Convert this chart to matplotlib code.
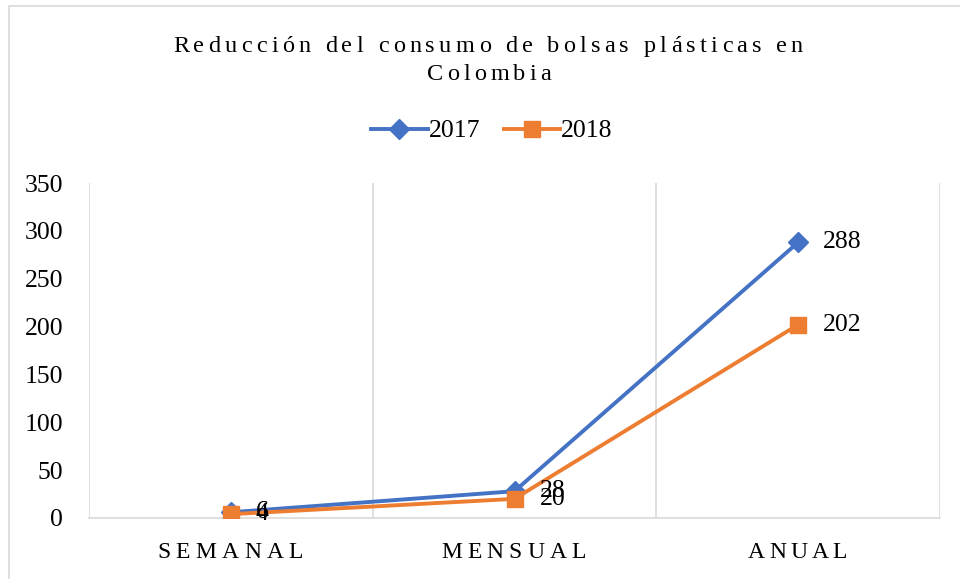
import matplotlib
matplotlib.use("Agg")
import matplotlib.pyplot as plt
from matplotlib.patches import Rectangle
from matplotlib.lines import Line2D

categories = ["SEMANAL", "MENSUAL", "ANUAL"]
series_2017 = [6, 28, 288]
series_2018 = [4, 20, 202]
yticks = [0, 50, 100, 150, 200, 250, 300, 350]
title_lines = ["Reducción del consumo de bolsas plásticas en", "Colombia"]

BLUE = "#4472C4"
ORANGE = "#ED7D31"
GRID = "#D9D9D9"
FONT = "Liberation Serif"

fig = plt.figure(figsize=(9.6, 5.79), dpi=100)
fig.patches.append(Rectangle((9/960, -0.1), 2, 1 - 6/579 + 0.1, transform=fig.transFigure,
                             fill=False, edgecolor=GRID, linewidth=1.2))
ax = fig.add_axes([89/960, 1 - 518/579, 851/960, 335/579])
x = [0, 1, 2]
ax.plot(x, series_2017, color=BLUE, lw=2.8, marker="D", ms=10, zorder=3, label="2017")
ax.plot(x, series_2018, color=ORANGE, lw=2.8, marker="s", ms=12, zorder=3, label="2018")
ax.set_xlim(-0.5, 2.5)
ax.set_ylim(0, 350)
ax.set_yticks(yticks)
ax.set_yticklabels([str(v) for v in yticks], fontfamily=FONT, fontsize=18.5)
ax.set_xticks(x)
ax.set_xticklabels([])
for v in [-0.5, 0.5, 1.5, 2.5]:
    ax.axvline(v, color=GRID, lw=1.2, zorder=0)
for s in ["top", "right", "left"]:
    ax.spines[s].set_visible(False)
ax.spines["bottom"].set_color(GRID)
ax.spines["bottom"].set_linewidth(1.2)
ax.tick_params(axis="both", length=0)
ax.tick_params(axis="y", pad=18.5)

for series in (series_2017, series_2018):
    for xi, v in zip(x, series):
        ax.annotate(str(v), (xi, v), xytext=(18, 0), textcoords="offset points",
                    ha="left", va="center", fontfamily=FONT, fontsize=18.5, color="black")

renderer = fig.canvas.get_renderer()

def char_width(ch, fontsize):
    if ch == " ":
        t1 = fig.text(0, 0, "a a", fontfamily=FONT, fontsize=fontsize)
        t2 = fig.text(0, 0, "aa", fontfamily=FONT, fontsize=fontsize)
        w = t1.get_window_extent(renderer).width - t2.get_window_extent(renderer).width
        t1.remove(); t2.remove()
        return w
    t = fig.text(0, 0, ch, fontfamily=FONT, fontsize=fontsize)
    w = t.get_window_extent(renderer).width
    t.remove()
    return w

def spaced_text(xc, baseline, s, target_width, fontsize):
    widths = [char_width(ch, fontsize) for ch in s]
    spacing = (target_width - sum(widths)) / (len(s) - 1)
    cx = xc - target_width / 2
    for ch, w in zip(s, widths):
        if ch != " ":
            fig.text(cx / 960, 1 - baseline / 579, ch, fontfamily=FONT, fontsize=fontsize,
                     ha="left", va="baseline")
        cx += w + spacing

spaced_text(488, 52, title_lines[0], 630, 17.5)
spaced_text(489, 80, title_lines[1], 125, 17.5)

for cx, lab, w in zip([230, 513.5, 797.5], categories, [146, 145, 99]):
    spaced_text(cx, 558, lab, w, 17)

handles = [Line2D([], [], color=BLUE, lw=2.8, marker="D", ms=10),
           Line2D([], [], color=ORANGE, lw=2.8, marker="s", ms=12)]
fig.legend(handles, ["2017", "2018"], loc="center", bbox_to_anchor=(492/960, 1 - 131/579),
           ncol=2, frameon=False, prop={"family": FONT, "size": 18.5},
           handlelength=2.2, handletextpad=0.05, columnspacing=0.9)

fig.savefig("out.png", dpi=100)
